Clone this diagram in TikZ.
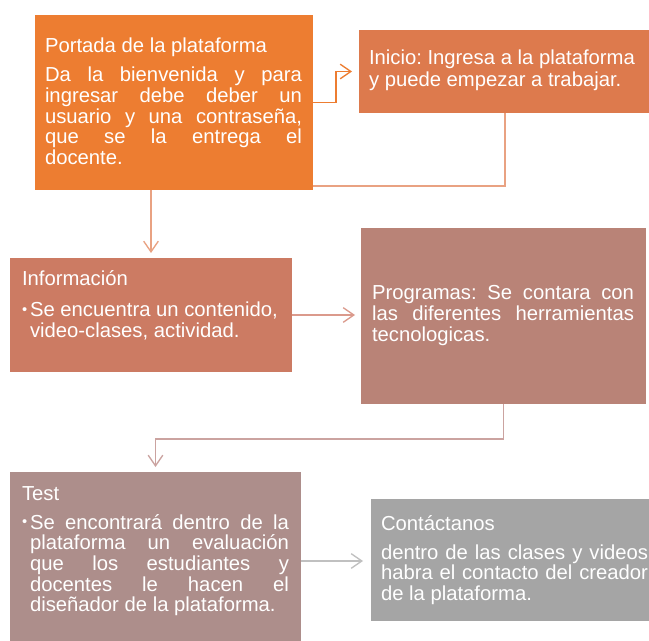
\documentclass[tikz,border=0pt]{standalone}
\usepackage{fontspec}
\setmainfont{Liberation Sans}
\usetikzlibrary{arrows.meta,calc,backgrounds}
\newlength\pxu \setlength\pxu{0.75pt}
\newcommand\jline[1]{\hbox to\hsize{#1}}
\newcommand\nline[1]{\hbox{#1}}
\newcommand\bul{\hbox to 8\pxu{\raisebox{0.2ex}{\fontsize{11}{11}\selectfont •}\hfil}}
\newcommand\ind{\kern8\pxu}
\newcommand\tblock[2]{\vtop{\frenchspacing\hsize=#1\pxu\baselineskip=20.7\pxu\lineskiplimit=-50pt\relax #2}}
\definecolor{cA}{HTML}{ED7D31}
\definecolor{cB}{HTML}{DD7A4D}
\definecolor{cC}{HTML}{CC7B63}
\definecolor{cD}{HTML}{B98377}
\definecolor{cE}{HTML}{AD8E8B}
\definecolor{cF}{HTML}{A5A5A5}
\definecolor{lA}{HTML}{ED7D31}
\definecolor{lB}{HTML}{E9A282}
\definecolor{lC}{HTML}{DB9A8C}
\definecolor{lD}{HTML}{CBA3A0}
\definecolor{lE}{HTML}{C0C0C0}
\tikzset{
  box/.style={rectangle, draw=none, inner sep=0pt, outer sep=0pt, anchor=north west},
  txt/.style={inner sep=0pt, outer sep=0pt, anchor=base west, text=white,
              font=\fontsize{15.2}{15.5}\selectfont},
  conn/.style={line width=1pt, -{Straight Barb[length=8pt,width=11pt]}},
}
\begin{document}
\begin{tikzpicture}[x=0.75pt,y=-0.75pt]
\path[use as bounding box] (0,0) rectangle (649,641);
\begin{scope}
\clip (0,0) rectangle (649,641);
% boxes
\node[box, fill=cA, minimum width=278\pxu, minimum height=175\pxu] (p) at (35,15) {};
\node[box, fill=cB, minimum width=292\pxu, minimum height=83\pxu] (i) at (359,30) {};
\node[box, fill=cC, minimum width=282\pxu, minimum height=114\pxu] (f) at (10,258) {};
\node[box, fill=cD, minimum width=285\pxu, minimum height=176\pxu] (g) at (361,228) {};
\node[box, fill=cE, minimum width=291\pxu, minimum height=178\pxu] (t) at (10,472) {};
\node[box, fill=cF, minimum width=289\pxu, minimum height=122\pxu] (c) at (371,499) {};
% texts
\node[txt] (pt) at (45,53) {\tblock{257}{%
  \nline{Portada de la plataforma}\vskip8\pxu
  \jline{Da la bienvenida y para}%
  \jline{ingresar debe deber un}%
  \jline{usuario y una contraseña,}%
  \jline{que se la entrega el}%
  \nline{docente.}}};
\node[txt] (it) at (369,65) {\tblock{280}{%
  \nline{Inicio: Ingresa a la plataforma}\vskip1\pxu
  \nline{y puede empezar a trabajar.}}};
\node[txt] (ft) at (22,286) {\tblock{265}{%
  \nline{Información}\vskip10\pxu
  \nline{\bul Se encuentra un contenido,}%
  \nline{\ind video-clases, actividad.}}};
\node[txt] (gt) at (372,300) {\tblock{262}{%
  \jline{Programas: Se contara con}%
  \jline{las diferentes herramientas}%
  \nline{tecnologicas.}}};
\node[txt] (tt) at (22,500) {\tblock{267}{%
  \nline{Test}\vskip8.3\pxu
  \jline{\bul Se encontrará dentro de la}%
  \jline{\ind plataforma un evaluación}%
  \jline{\ind que los estudiantes y}%
  \jline{\ind docentes le hacen el}%
  \nline{\ind diseñador de la plataforma.}}};
\node[txt] (ct) at (381,530) {\tblock{267}{%
  \nline{Contáctanos}\vskip8.3\pxu
  \jline{dentro de las clases y videos}%
  \jline{habra el contacto del creador}%
  \nline{de la plataforma.}}};
\end{scope}
\coordinate (gin) at ($(g.west)+(-6,0)$);
\coordinate (cin) at ($(c.west)+(-8,0)$);
\begin{pgfonlayer}{background}
\fill[white] (0,0) rectangle (649,641);
\draw[conn, lA] (p.east) -- ++(23,0) |- ($(i.west)+(-7,0)$);
\draw[conn, lB] (i.south) -- ++(0,73) -| ($(f.north)+(0,-5)$);
\draw[conn, lC] (f.east) -- (f.east -| gin);
\draw[conn, lD] (g.south) -- ++(0,35) -| ($(t.north)+(0,-5)$);
\draw[conn, lE] (t.east) -- (t.east -| cin);
\end{pgfonlayer}
\end{tikzpicture}
\end{document}
